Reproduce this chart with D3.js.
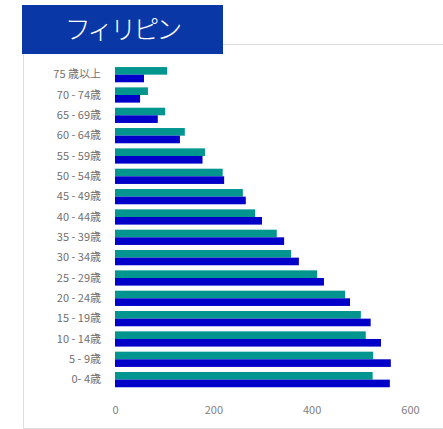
<!DOCTYPE html>
<html lang="ja">
<head>
    <meta charset="UTF-8">
    <title>フィリピン</title>
    <script type="application/javascript" src="https://cdnjs.cloudflare.com/ajax/libs/d3/7.8.5/d3.min.js"></script>
    <style type="text/css">
        body { margin: 0; background: #fff; }
        .axis path, .axis line { display: none; }
        .axis text { fill: #808080; font-size: 11px; font-family: "Noto Sans CJK JP", sans-serif; }
        .axis--y text { fill: #707070; }
    </style>
</head>
<body>
<svg width="443" height="429"></svg>
<script type="application/javascript">
    // age groups, top to bottom
    var AGE_LABELS = ['75 歳以上', '70 - 74歳', '65 - 69歳', '60 - 64歳', '55 - 59歳', '50 - 54歳',
        '45 - 49歳', '40 - 44歳', '35 - 39歳', '30 - 34歳', '25 - 29歳', '20 - 24歳',
        '15 - 19歳', '10 - 14歳', '5 - 9歳', '0- 4歳'];
    var SERIES = ['女性', '男性'];
    var FEMALE = [106, 67, 102, 142, 183, 219, 260, 285, 329, 358, 411, 468, 500, 510, 525, 524];
    var MALE = [59, 51, 87, 132, 178, 222, 266, 299, 344, 374, 425, 478, 520, 541, 561, 559];
    var X_TICKS = [0, 200, 400, 600];
    var COLORS = ['#00968f', '#0000c8'];

    var svg = d3.select('svg');

    // frame lines
    svg.append('path')
        .attr('d', 'M23.5,54 V428.5 H443 M223,44.5 H443')
        .attr('fill', 'none')
        .attr('stroke', '#dcdcdc')
        .attr('stroke-width', 1);

    // title box
    svg.append('rect')
        .attr('x', 22).attr('y', 5)
        .attr('width', 201).attr('height', 49)
        .attr('fill', '#0a37a6');
    svg.append('text')
        .attr('x', 122).attr('y', 30)
        .attr('dy', '0.35em')
        .attr('text-anchor', 'middle')
        .attr('fill', '#fff')
        .attr('font-family', '"Noto Sans CJK JP", sans-serif')
        .attr('font-weight', 300)
        .attr('font-size', 26)
        .attr('letter-spacing', -3)
        .text('フィリピン');

    var x = d3.scaleLinear().domain([0, 600]).range([115, 410]);
    var y0 = d3.scaleBand().domain(AGE_LABELS).range([64.5, 389.8])
        .paddingInner(0.25).paddingOuter(0.125);
    var y1 = d3.scaleBand().domain(SERIES).range([0, y0.bandwidth()]);
    var color = d3.scaleOrdinal().domain(SERIES).range(COLORS);

    var rows = AGE_LABELS.map(function (a, i) {
        return {age: a, values: [{key: SERIES[0], value: FEMALE[i]}, {key: SERIES[1], value: MALE[i]}]};
    });

    svg.append('g')
        .selectAll('g')
        .data(rows)
        .enter().append('g')
        .attr('transform', function (d) { return 'translate(0,' + y0(d.age) + ')'; })
        .selectAll('rect')
        .data(function (d) { return d.values; })
        .enter().append('rect')
        .attr('x', x(0))
        .attr('y', function (d) { return y1(d.key); })
        .attr('width', function (d) { return x(d.value) - x(0); })
        .attr('height', y1.bandwidth())
        .attr('fill', function (d) { return color(d.key); });

    svg.append('g')
        .attr('class', 'axis axis--x')
        .attr('transform', 'translate(0,398)')
        .call(d3.axisBottom(x).tickValues(X_TICKS).tickSize(0).tickPadding(8));

    svg.append('g')
        .attr('class', 'axis axis--y')
        .attr('transform', 'translate(' + x(0) + ',0)')
        .call(d3.axisLeft(y0).tickSize(0).tickPadding(14));
</script>
</body>
</html>
